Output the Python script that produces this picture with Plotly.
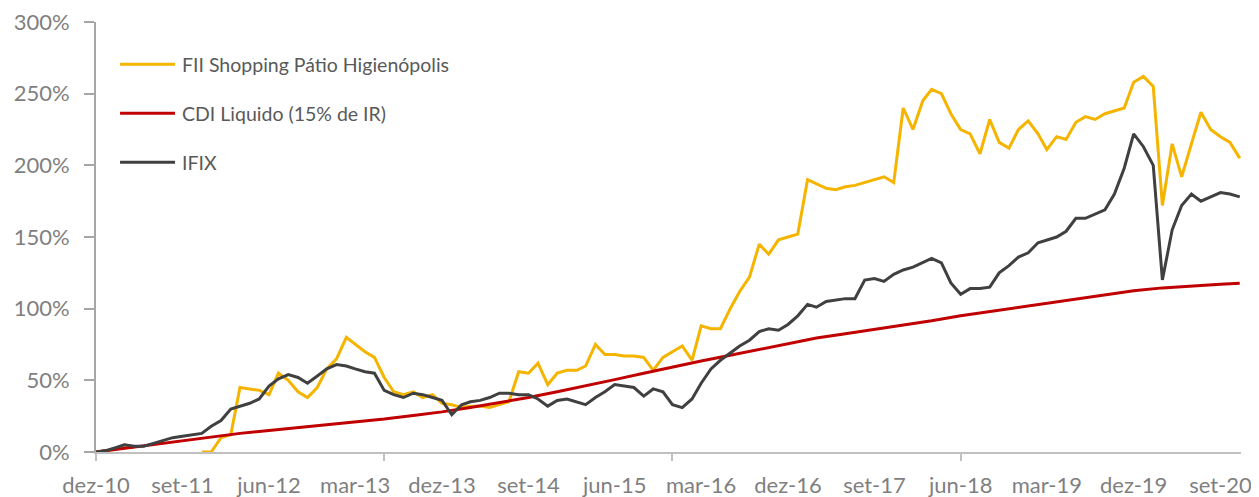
import pandas as pd
import plotly.graph_objs as go

# monthly closes, Dec 2010 .. Nov 2020 (cumulative return, %)
months = pd.date_range("2010-12-01", periods=120, freq="MS")

shopping = [0, 1, 2, 5, 3, None, None, None, None, None, None, 0,
            0, 10, 12, 45, 44, 43, 40, 55, 50, 42, 38, 45,
            58, 65, 80, 75, 70, 66, 52, 42, 40, 42, 38, 40,
            34, 33, 31, 32, 32, 31, 33, 35, 56, 55, 62, 47,
            55, 57, 57, 60, 75, 68, 68, 67, 67, 66, 57, 66,
            70, 74, 64, 88, 86, 86, 100, 112, 122, 145, 138, 148,
            150, 152, 190, 187, 184, 183, 185, 186, 188, 190, 192, 188,
            240, 225, 245, 253, 250, 236, 225, 222, 208, 232, 216, 212,
            225, 231, 222, 211, 220, 218, 230, 234, 232, 236, 238, 240,
            258, 262, 255, 172, 215, 192, 215, 237, 225, 220, 216, 205]

ifix = [0, 1, 3, 5, 4, 4, 6, 8, 10, 11, 12, 13,
        18, 22, 30, 32, 34, 37, 46, 51, 54, 52, 48, 53,
        58, 61, 60, 58, 56, 55, 43, 40, 38, 41, 40, 38,
        36, 26, 33, 35, 36, 38, 41, 41, 40, 40, 37, 32,
        36, 37, 35, 33, 38, 42, 47, 46, 45, 39, 44, 42,
        33, 31, 37, 48, 58, 64, 69, 74, 78, 84, 86, 85,
        89, 95, 103, 101, 105, 106, 107, 107, 120, 121, 119, 124,
        127, 129, 132, 135, 132, 118, 110, 114, 114, 115, 125, 130,
        136, 139, 146, 148, 150, 154, 163, 163, 166, 169, 180, 198,
        222, 213, 200, 120, 155, 172, 180, 175, 178, 181, 180, 178]

# CDI read every quarter (plus last point)
cdi_dates = list(pd.date_range("2010-12-01", periods=40, freq="3MS")) + [pd.Timestamp("2020-11-01")]
cdi = [0, 2.5, 5, 7.5, 10.5, 13, 15, 17, 19, 21,
       23, 25.5, 28, 31, 34.5, 38, 42, 46, 50.5, 55,
       59.5, 63.5, 67.5, 71.5, 75.5, 79.5, 82.5, 85.5, 88.5, 91.5,
       95, 98, 101, 104, 107, 110, 112.5, 114.5, 116, 117, 117.7]

tick_dates = pd.date_range("2010-12-01", periods=14, freq="9MS")
tick_text = ["dez-10", "set-11", "jun-12", "mar-13", "dez-13", "set-14", "jun-15",
             "mar-16", "dez-16", "set-17", "jun-18", "mar-19", "dez-19", "set-20"]
mark_dates = pd.date_range("2010-12-01", periods=4, freq="30MS")

names = ["FII Shopping Pátio Higienópolis", "CDI Liquido (15% de IR)", "IFIX"]
colors = ["#F5B400", "#C00000", "#404040"]

fig = go.Figure()
fig.add_trace(go.Scatter(x=months, y=shopping, mode="lines", name=names[0],
                         line=dict(color=colors[0], width=3), connectgaps=False))
fig.add_trace(go.Scatter(x=cdi_dates, y=cdi, mode="lines", name=names[1],
                         line=dict(color=colors[1], width=3)))
fig.add_trace(go.Scatter(x=months, y=ifix, mode="lines", name=names[2],
                         line=dict(color=colors[2], width=3)))

# legend drawn by hand, like the excel one
leg_y = [0.902, 0.788, 0.674]
for name, col, yy in zip(names, colors, leg_y):
    fig.add_shape(type="line", xref="paper", yref="paper", x0=0.021, x1=0.069, y0=yy, y1=yy,
                  line=dict(color=col, width=3))
    fig.add_annotation(xref="paper", yref="paper", x=0.0734, y=yy, text=name, showarrow=False,
                       xanchor="left", yanchor="middle", font=dict(size=19.5, color="#595959"))

# the page body has an 8px margin, so the figure is a bit smaller than the window
fig.update_layout(
    width=1251, height=489,
    margin=dict(l=88, r=18, t=14, b=45),
    plot_bgcolor="white", paper_bgcolor="white",
    showlegend=False,
    font=dict(family="Lato", size=22, color="#7F7F7F"),
    xaxis=dict(range=["2010-12-01", "2020-11-05"], tickmode="array", tickvals=tick_dates,
               ticktext=tick_text, ticks="", showgrid=False, zeroline=False, automargin=False,
               showline=True, linecolor="#C0C0C0", linewidth=2, ticklabelstandoff=13,
               ticklabeloverflow="allow",
               minor=dict(tickmode="array", tickvals=mark_dates, ticks="outside",
                          ticklen=7, tickcolor="#C0C0C0", tickwidth=2, showgrid=False)),
    yaxis=dict(range=[0, 300], dtick=50, ticksuffix="%", showgrid=False, zeroline=False,
               automargin=False, showline=True, linecolor="#A6A6A6", linewidth=2,
               ticks="outside", ticklen=10, tickcolor="#A6A6A6", tickwidth=2,
               ticklabelstandoff=10, ticklabeloverflow="allow"),
)

fig.write_html("out.html")
